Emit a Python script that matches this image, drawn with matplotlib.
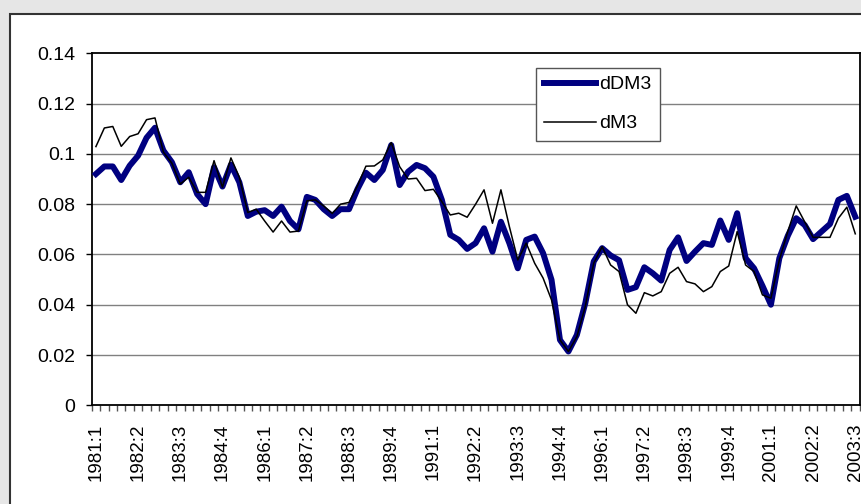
import matplotlib
matplotlib.use("Agg")
import matplotlib.pyplot as plt
from matplotlib.patches import Rectangle

plt.rcParams['font.family'] = ['Liberation Sans', 'DejaVu Sans']

# quarters 1981:1 .. 2003:3
quarters = [f"{1981 + k // 4}:{k % 4 + 1}" for k in range(91)]

dDM3 = [0.092, 0.095, 0.095, 0.0896, 0.0953, 0.0993, 0.1064, 0.1104, 0.1013, 0.0967,
        0.0887, 0.0927, 0.084, 0.080, 0.0947, 0.087, 0.0957, 0.0887, 0.0753, 0.077,
        0.0776, 0.0753, 0.079, 0.0733, 0.070, 0.0829, 0.0817, 0.078, 0.0753, 0.078,
        0.078, 0.086, 0.0925, 0.0896, 0.0936, 0.1035, 0.0876, 0.0929, 0.0956, 0.0943,
        0.0909, 0.0817, 0.0678, 0.0658, 0.0622, 0.0645, 0.0704, 0.0611, 0.073, 0.0645,
        0.0545, 0.0658, 0.0671, 0.0605, 0.0499, 0.026, 0.0214, 0.028, 0.0406, 0.0572,
        0.0625, 0.0596, 0.0577, 0.0459, 0.047, 0.0549, 0.0525, 0.0496, 0.0618, 0.0668,
        0.0574, 0.0611, 0.0645, 0.0638, 0.0735, 0.0658, 0.0764, 0.0585, 0.0545, 0.0475,
        0.040, 0.0585, 0.0674, 0.0744, 0.0717, 0.0661, 0.0691, 0.0721, 0.0817, 0.0833,
        0.075]

dM3 = [0.1029, 0.1103, 0.1109, 0.103, 0.1069, 0.108, 0.1136, 0.1143, 0.1007, 0.0963,
       0.088, 0.0907, 0.0847, 0.0847, 0.0973, 0.0867, 0.0984, 0.0907, 0.0767, 0.078,
       0.0733, 0.0689, 0.0733, 0.0689, 0.0693, 0.0813, 0.0817, 0.0793, 0.0763, 0.080,
       0.0807, 0.0873, 0.0951, 0.0952, 0.0976, 0.1045, 0.0949, 0.090, 0.0903, 0.0854,
       0.0859, 0.081, 0.0757, 0.0764, 0.0748, 0.080, 0.0857, 0.0724, 0.0857, 0.0711,
       0.0578, 0.0645, 0.0565, 0.0506, 0.0419, 0.026, 0.0214, 0.0273, 0.0393, 0.0565,
       0.0631, 0.0558, 0.0532, 0.040, 0.0366, 0.0448, 0.0435, 0.0452, 0.0525, 0.0549,
       0.0492, 0.0483, 0.0452, 0.0472, 0.0532, 0.0554, 0.0691, 0.0558, 0.0532, 0.0439,
       0.0426, 0.0578, 0.0691, 0.0793, 0.073, 0.0668, 0.0668, 0.0668, 0.0744, 0.0788,
       0.0682]

y_ticks = [0, 0.02, 0.04, 0.06, 0.08, 0.1, 0.12, 0.14]
y_labels = ["0", "0.02", "0.04", "0.06", "0.08", "0.1", "0.12", "0.14"]

fig = plt.figure(figsize=(8.62, 5.04), dpi=100)
fig.patch.set_facecolor("#e6e6e6")

# white chart area with dark frame (runs off the right and bottom edges)
fig.patches.append(Rectangle((10 / 862, -0.1), 1.2, 0.1 + (504 - 14) / 504,
                             transform=fig.transFigure, facecolor="white",
                             edgecolor="#333333", lw=1.5, zorder=-10))

ax = fig.add_axes([91.7 / 862, 98.7 / 504, 767.8 / 862, 352 / 504])
ax.set_facecolor("white")

x = list(range(len(quarters)))
ax.plot(x, dDM3, color="#000080", lw=4.3, label="dDM3", solid_joinstyle="round", zorder=3)
ax.plot(x, dM3, color="black", lw=1.1, label="dM3", zorder=4)

ax.set_xlim(-0.5, len(quarters) - 0.5)
ax.set_ylim(0, 0.14)

ax.set_yticks(y_ticks)
ax.set_yticklabels(y_labels)
ax.tick_params(axis="y", length=4, width=1, direction="out", pad=8, labelsize=14)
for v in y_ticks[1:-1]:
    ax.axhline(v, color="#808080", lw=1, zorder=1)

ax.set_xticks(x[::5])
ax.set_xticklabels(quarters[::5], rotation=90)
ax.set_xticks([k - 0.5 for k in range(len(quarters) + 1)], minor=True)
ax.tick_params(axis="x", which="major", length=0, pad=13, labelsize=13.5)
ax.tick_params(axis="x", which="minor", length=4, width=1, color="#555555", direction="out")

for s in ax.spines.values():
    s.set_color("black")
    s.set_linewidth(1.3)

leg = ax.legend(loc="upper left", bbox_to_anchor=(536 / 862, 1 - 67.7 / 504),
                bbox_transform=fig.transFigure, borderaxespad=0, fancybox=False,
                edgecolor="#555555", framealpha=1, fontsize=14, handlelength=2.65,
                handletextpad=0.2, labelspacing=1.1, borderpad=0.42)
leg.get_frame().set_linewidth(1)

fig.savefig("out.png", dpi=100, facecolor=fig.get_facecolor())
